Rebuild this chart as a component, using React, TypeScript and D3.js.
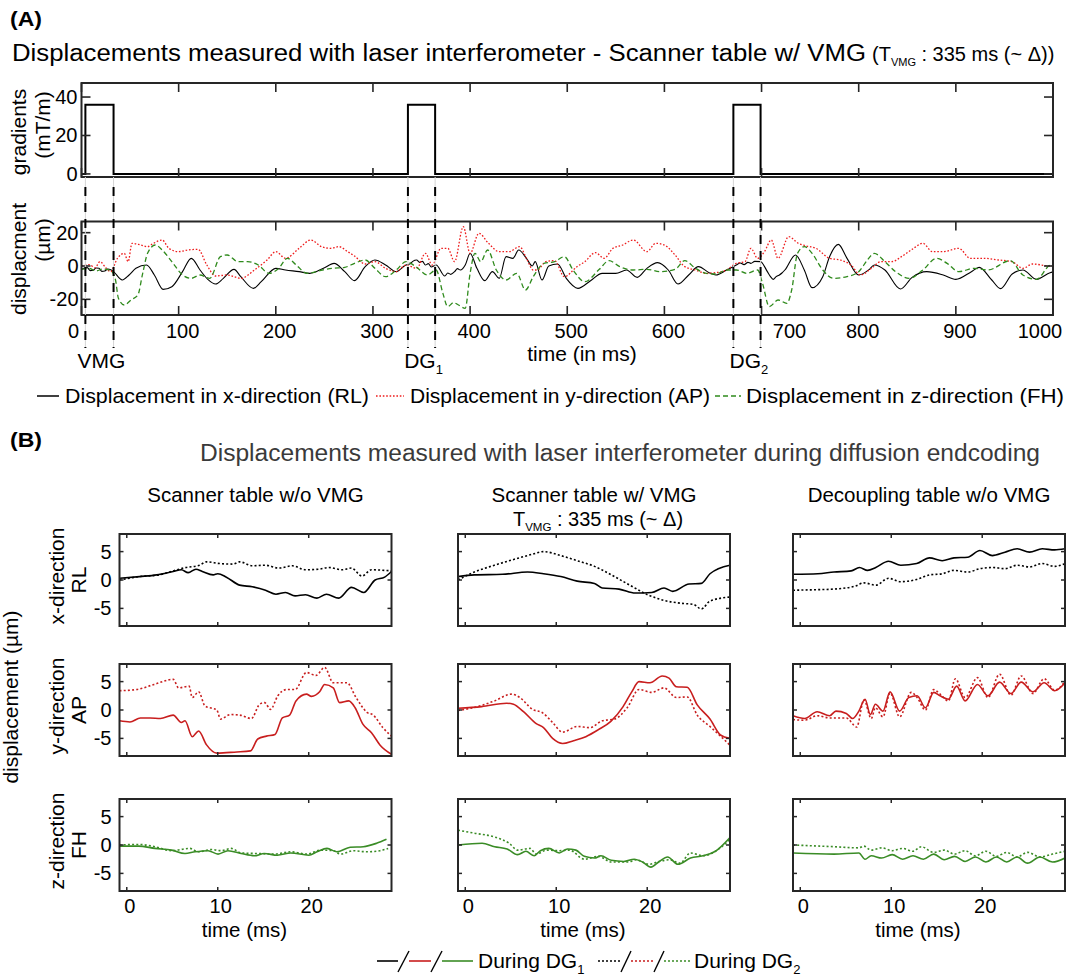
import React from "react";
import * as d3 from "d3";

const FONT = "'Liberation Sans', Arial, Helvetica, sans-serif";

// ---------- (A) gradient waveform (ms, mT/m) ----------
const gradTime = [0, 4, 4, 33, 33, 336, 336, 364, 364, 671, 671, 699, 699, 1000];
const gradAmp = [0, 0, 36, 36, 0, 0, 36, 36, 0, 0, 36, 36, 0, 0];
const pulseStart = [4, 336, 671];
const pulseEnd = [33, 364, 699];
const pulseName = ["VMG", "DG", "DG"];
const pulseSub = ["", "1", "2"];

const timeTicksA = [0, 100, 200, 300, 400, 500, 600, 700, 800, 900, 1000];
const gradTicks = [0, 20, 40];
const dispTicksA = [-20, 0, 20];

// ---------- (A) displacement traces [ms, µm] ----------
const dispRL: [number, number][] = [
  [0, -2], [3, -1.2], [6, -1], [9, -2.8], [12, -2.6], [15, -1.2], [18, -1.4], [21, -3.2], [24, -3], [27, -1.8], [30, -2.2],
  [33, -3.4], [42, -8.4], [49, -5.4], [56, -1.4],
  [67, 0.6], [75, -5.4], [84, -14], [93, -12.4], [104, -3.4], [113, 4.6], [122, -2.4], [130, -8], [138, -10.8],
  [146, -7.4], [157, -2], [164, -6.4], [177, -13.4], [185, -9.4], [200, -1.4], [210, -2.4], [224, -3.4], [235, -4.4],
  [249, -1.4], [260, 1.6], [271, -3.4], [281, -8.8], [292, -0.4], [302, 3.6], [313, 0.6], [324, -3.4], [334, 0.6],
  [338, 1.2], [341, 2.8], [345, 3.6], [348, 2.2], [351, 2.8], [354, 0.6], [357, 1.4], [360, -0.6], [365, 0.6],
  [374, -6], [377, -4.2], [380, -5], [384, -3.4], [387, -1.6], [390, -2.4], [395, 0.6],
  [400, 7.6], [407, -1.4], [415, -8.8], [423, -3.4], [430, -7.4], [437, 5.6], [444, 4.6], [450, 9.6], [458, 4.6],
  [464, 0], [467, 2.6], [474, -8.4], [481, 0], [490, 1.2], [499, -7.4], [511, -13.4], [524, -8.8], [536, -4.4],
  [550, -4.4], [561, -2.4], [572, -6.8], [582, -1.4], [593, 2], [604, -2.4], [614, -10.8], [625, -5.4], [635, -0.4],
  [646, -4], [653, -5.4], [664, -2.4], [674, 0.6], [678, 1.8], [682, 0.8], [686, 2.2], [689, 1.6], [693, 2.8], [699, 2.6],
  [706, -3.4], [709, -6.2], [712, -8], [715, -6.4], [718, -5.5], [721, -4.2], [724, -2.4],
  [735, 6.6], [744, -2.4], [752, -13], [763, -6.4], [770, 5.6], [779, 13], [788, 4.6],
  [800, -5.4], [811, -2], [816, 0.6], [827, -2.4], [843, -13.8], [855, -6.8], [870, -3.4], [887, -5.4], [900, -8],
  [916, -3.4], [924, -0.8], [937, -8.4], [946, -13.6], [958, -4.8], [969, -2.4], [983, -8], [997, -4], [1000, -3.5],
];
const dispAP: [number, number][] = [
  [0, 0], [8, 0.8], [14, -1], [19, 2.6], [25, -1], [30, -3.4], [37, 4.6], [44, 7.6], [48, 2.6], [52, 13.6], [61, 12.6],
  [68, 11.6], [74, 13.6], [83, 15.6], [90, 10.6], [100, 8.6], [109, 9.6], [120, 10], [129, 0.6], [138, -6], [150, -5.4],
  [164, -7.4], [178, -2.4], [191, 3.6], [200, 8.6], [210, 4.6], [224, 10.6], [236, 15.6], [247, 11.6], [256, 10.6],
  [265, 11.6], [274, 8.6], [281, 6], [292, 1.2], [302, 2.6], [313, -1.4], [324, -3.4], [334, 0.6], [345, -1.4],
  [354, 7.6], [361, 0.6], [370, 10.6], [377, 10.6], [384, 2.6], [393, 23.6], [400, 7.6], [409, 19.6], [419, 13.6],
  [430, 8.6], [440, 8.6], [451, 11.6], [458, 4.6], [465, -2.4], [469, -2.4], [478, 2.6], [487, 3.2], [497, -6.4],
  [510, -0.4], [518, 2.6], [529, 8], [538, 4.6], [547, 10.6], [557, 12.6], [568, 15.6], [582, 8.6], [591, 13.6],
  [600, 12.6], [611, 6.6], [621, -0.4], [632, -2.4], [643, -4.4], [653, -4], [664, -2.4], [674, 1.6], [683, 2.6],
  [689, 10.6], [696, 4.6], [703, 8.6], [710, 15.6], [717, 4.6], [728, 17.6], [738, 13.6], [745, 12.2], [756, 10.6],
  [770, 4.6], [781, 3.6], [792, 0.6], [802, -5.4], [813, -1.4], [823, 2.6], [834, 2.6], [844, 5.6], [855, 10],
  [866, 13.6], [876, 8.6], [887, 8.6], [903, 10.6], [915, 4.6], [929, 4.6], [944, 3.6], [958, 2.6], [969, -1.4],
  [979, 1.2], [997, 0], [1000, 0],
];
const dispFH: [number, number][] = [
  [0, -2], [8, -1.5], [15, -3], [22, -1.8], [30, -2.6], [35, -8.4], [38, -19.4], [44, -23.4], [51, -20.4], [58, -17.4],
  [63, -4.4], [68, 7.6], [76, 12.6], [83, 9.6], [93, 2.6], [104, -5.4], [113, -7.4], [122, -5.4], [132, -7.4],
  [143, 5.6], [150, 6.6], [161, 2.6], [171, 2.6], [182, 0.6], [193, -4.4], [203, -1.4], [212, 4.6], [221, 0.6],
  [232, -4.4], [248, -2.4], [258, -1.4], [271, -0.8], [281, 1.6], [292, 3.6], [302, -1.4], [313, -6.4], [324, -2.4],
  [334, 2.6], [345, -0.8], [356, -5.4], [365, -2.4], [372, -16.4], [377, -24.4], [383, -22], [388, -23.4], [395, -25.4],
  [400, -4.4], [405, 7.6], [411, 2.6], [418, 9.6], [427, -2.4], [437, -8.4], [448, -4.4], [457, -14.4], [465, -6.4],
  [476, 1.6], [487, 2.6], [497, 5.6], [506, -2.4], [518, -9.4], [533, -2], [543, 3.2], [554, -0.4], [568, -2.4],
  [582, -2], [596, -3.4], [611, -2], [621, 3.2], [632, -1.4], [643, -4.4], [653, -4.8], [664, -2.4], [674, -2.4],
  [685, -4.4], [696, -2.4], [701, -10.4], [708, -24.4], [717, -20.4], [726, -22.4], [731, -14.4], [737, 7.6],
  [744, 11.6], [752, 7.6], [763, -2.4], [774, -7.4], [788, -6.4], [800, -3.4], [809, 3.6], [816, 7.6], [827, 2.6],
  [838, -3.4], [852, -7.4], [866, -2.4], [880, 4.6], [891, 1.6], [903, -3.4], [919, -1.4], [933, -2.4], [956, 3.2],
  [969, -5.4], [983, -8], [997, 0.6], [1000, 1],
];

const legendA = [
  "Displacement in x-direction (RL)",
  "Displacement in y-direction (AP)",
  "Displacement in z-direction (FH)",
];

// ---------- (B) diffusion-encoding windows [ms, µm] ----------
const bColumns = ["Scanner table w/o VMG", "Scanner table w/ VMG", "Decoupling table w/o VMG"];
const bRows = [["x-direction", "RL"], ["y-direction", "AP"], ["z-direction", "FH"]];
const bTimeTicks = [0, 10, 20];
const bDispTicks = [-5, 0, 5];

// x-direction (RL)
const rlScanDG1: [number, number][] = [[-0.8, 0.3], [1.4, 0.6], [3.3, 0.9], [5.1, 1.5], [6, 1.8], [6.75, 1.3], [7.6, 1.9], [8.3, 1.5], [9.5, 0.9], [10, 1.1], [10.95, 0.5], [12.4, -0.9], [13.8, -1.2], [15.25, -1.8], [16.4, -2.5], [17.45, -2.2], [18.5, -2.8], [19.65, -2.6], [20.9, -3.2], [21.95, -2.5], [23.3, -3.2], [24.7, -1.3], [26.05, -2.2], [27.3, 0], [28.35, 0.5], [29.1, 1.5]];
const rlScanDG2: [number, number][] = [[-0.8, 0], [1.4, 0.6], [3.6, 0.9], [5.1, 1.6], [6.5, 2.2], [8, 2.6], [8.75, 3.2], [10.2, 2.9], [11.7, 2.8], [12.4, 3.2], [13.8, 2.5], [15.25, 2.6], [16.7, 2.1], [18.2, 2.5], [19.65, 1.8], [21.1, 1.9], [22.2, 2.2], [23.65, 1.8], [24.7, 2.1], [25.85, 0.7], [26.9, 1.8], [29.1, 1.6]];
const rlVmgDG1: [number, number][] = [[-0.8, 0.6], [1, 0.9], [4.1, 1], [6.85, 1.4], [8.6, 1.1], [10.5, 0.6], [12.3, -0.2], [14.2, -0.6], [15.05, -1.4], [16.9, -1.6], [18.7, -2.3], [20.5, -2.2], [21.85, -1.4], [22.8, -2], [24.6, -0.7], [25.95, -0.6], [26.9, 1.1], [29.1, 2.6]];
const rlVmgDG2: [number, number][] = [[-0.8, 0], [1, 1.4], [3.2, 2.6], [5.5, 3.7], [7.3, 4.5], [8.6, 5], [10.5, 4.3], [12.3, 3.4], [14.2, 2.4], [16.4, 0.6], [18.3, -1.1], [20.05, -2.6], [21.85, -3.6], [23.75, -4.1], [25.1, -4.3], [25.95, -5.1], [26.9, -3.7], [29.1, -3]];
const rlDecDG1: [number, number][] = [[-0.8, 1], [1.93, 1.1], [3.7, 1.4], [5.6, 1.6], [6.5, 2.2], [7.4, 1.7], [8.3, 2.2], [9.7, 3.3], [11.05, 2.6], [12.8, 2.9], [14.2, 3.9], [15.6, 3.4], [16.9, 3.9], [18.4, 4], [19.75, 5.2], [21.1, 4.3], [22.5, 4.9], [23.85, 5.5], [25.2, 4.9], [26.6, 5.5], [27.95, 5.3], [29.1, 5.5]];
const rlDecDG2: [number, number][] = [[-0.8, -1.8], [1.93, -1.7], [3.7, -1.6], [6, -1.1], [7, -0.5], [8.3, -0.9], [9.7, 0.3], [11.05, -0.3], [12.8, 0.1], [14.2, 0.9], [15.6, 1.1], [16.9, 1.7], [18.4, 1.4], [19.75, 2], [21.1, 2.2], [22.5, 2], [23.85, 2.6], [25.2, 2.3], [26.6, 2.9], [27.95, 2.4], [29.1, 2.9]];

// y-direction (AP)
const apScanDG1: [number, number][] = [[-0.8, -1.9], [0.35, -2.1], [1.5, -1.4], [2.56, -1.4], [3.7, -1.5], [5.1, -0.9], [6, -2.2], [6.4, -1.9], [7.2, -4.7], [7.9, -3.7], [8.75, -6.1], [9.9, -7.6], [10.95, -7.5], [12.1, -7.4], [13.6, -7.2], [14.4, -5.1], [15.35, -4.6], [16.3, -4.3], [17.1, -1.4], [17.9, -0.9], [18.6, 1.6], [19.75, 2.8], [20.3, 2.4], [21.2, 3.2], [21.75, 4.5], [22.7, 3.9], [23.4, 1.3], [24.4, 1.6], [25.1, 0.4], [25.95, -2.5], [26.9, -4], [27.85, -6.2], [29.1, -7.8]];
const apScanDG2: [number, number][] = [[-0.8, 3.4], [1.09, 3.6], [3, 4.5], [5.1, 5.4], [5.7, 3.9], [6.85, 4.2], [7.2, 2.2], [7.9, 3.2], [8.6, 0.7], [9.9, 0], [10.3, -1.6], [11.4, -0.8], [12.4, -0.9], [13.7, -1.5], [14.6, 1], [15.15, 1.3], [15.8, 0.1], [16.6, 2.5], [17.55, 3.6], [18.5, 3.6], [19.75, 6.6], [20.8, 6.1], [21.75, 7.5], [22.7, 4.8], [24.2, 4.8], [25.2, 2.2], [26.4, -0.4], [27.1, -0.9], [28.15, -3.1], [29.1, -4.6]];
const apVmgDG1: [number, number][] = [[-0.8, 0.3], [1.8, 0.6], [4.55, 1.2], [5.3, 1], [6.4, -0.3], [7.8, -2.4], [8.6, -3.1], [9.6, -5], [10.7, -5.9], [11.9, -5.4], [13.25, -4.7], [14.6, -3.5], [16, -2], [17.35, 0.6], [18.3, 3.2], [19.1, 5], [20.3, 4.8], [21.65, 6], [22.4, 5.6], [23.2, 4.1], [24.4, 4], [25.5, 0.9], [26.9, -1.6], [28.05, -4.4], [29.1, -5]];
const apVmgDG2: [number, number][] = [[-0.8, -0.1], [1.8, 0.8], [3.2, 1.6], [5.1, 2.8], [6, 2.2], [7.4, 0.1], [8.5, -0.5], [9.6, -2.2], [10.7, -3.9], [12.3, -2.9], [13.7, -3.1], [15.05, -1.9], [16.4, -1.6], [17.8, 0.4], [19.1, 3.6], [20.5, 3.1], [21.85, 3.9], [23.2, 2.2], [24.4, 2.3], [25.5, -0.9], [26.9, -2.9], [28.05, -4.6], [29.1, -6.2]];
const apDecDG1: [number, number][] = [[-0.8, -1], [0.48, -1.5], [1.85, -0.3], [3.23, -1], [3.92, -0.2], [5.06, -0.6], [5.75, -1.5], [6.44, -0.2], [7.12, 1.9], [7.7, -0.8], [8.26, 1], [9.09, -0.2], [9.87, 3.2], [10.92, -0.2], [11.93, 2.2], [12.84, 2.5], [13.76, 0.4], [14.67, 3.1], [15.37, 2.5], [16.28, 1.9], [17.19, 4.2], [18.12, 1.6], [19.48, 4.5], [20.63, 2.5], [21.91, 4.9], [23.15, 2.9], [24.29, 4.9], [25.57, 3.2], [26.81, 4.8], [27.96, 3.4], [29.1, 4.8]];
const apDecDG2: [number, number][] = [[-0.8, -1.7], [0.48, -1.8], [1.85, -1], [3.23, -1.4], [5.06, -1.4], [6.2, -3], [7, 1.8], [7.8, -1.5], [8.26, 0.4], [9.09, -1.2], [9.87, 3], [10.92, -1.2], [12.2, 3.1], [12.84, 2.2], [13.76, 0], [14.67, 3.6], [15.37, 2.8], [16.28, 1.6], [17.05, 5.5], [18.12, 2.2], [19.48, 5.7], [20.63, 2.2], [21.91, 6.3], [23.15, 2.6], [24.29, 6], [25.57, 2.9], [26.81, 5.5], [27.96, 3.5], [29.1, 5]];

// z-direction (FH)
const fhScanDG1: [number, number][] = [[-0.8, -0.2], [1.3, -0.2], [3.1, -0.6], [4.94, -0.9], [6.4, -1.5], [7.5, -1.2], [8.94, -1], [10.03, -1.6], [11.12, -1], [12.57, -1.5], [14.02, -1.9], [15.11, -1.5], [16.56, -1.8], [18.02, -1.4], [20.01, -1.8], [20.92, -1.2], [22.01, -0.6], [23.1, -1.2], [24.56, -0.4], [26, -0.3], [27.46, 0.3], [28.55, 1]];
const fhScanDG2: [number, number][] = [[-0.8, 0], [1.3, 0.1], [3.1, -0.3], [4.94, -1], [6.94, -0.6], [7.86, -1.2], [9.3, -0.8], [10.4, -1], [11.5, -0.6], [12.57, -1.4], [14.4, -1.5], [16.2, -1.6], [18.02, -1.2], [19.84, -1.6], [21.29, -0.9], [22.74, -1], [23.47, -1.6], [24.92, -1], [26.37, -1.2], [27.83, -1], [28.73, -0.6]];
const fhVmgDG1: [number, number][] = [[-0.8, 0], [1.85, 0.3], [3.23, -0.3], [4.6, -0.7], [5.75, -1.7], [6.66, -1.1], [7.58, -1.9], [8.26, -1], [9.18, -0.6], [10.33, -1.4], [11.24, -0.7], [12.16, -0.9], [13.08, -2], [14.22, -2.3], [14.91, -1.9], [16.05, -2.7], [17.42, -2.9], [18.57, -2.5], [19.49, -3], [20.4, -3.9], [21.32, -2.9], [22.24, -2.1], [23.38, -3.4], [24.76, -2.3], [26.13, -1.9], [27.5, -1.1], [29.1, 1.3]];
const fhVmgDG2: [number, number][] = [[-0.8, 2.6], [0.94, 2.1], [3.23, 1.4], [4.83, 0.3], [5.75, -0.9], [7.12, -0.6], [7.81, -1.6], [8.96, -0.9], [10.33, -1], [11.47, -0.9], [13.08, -2.5], [14.68, -2], [16.05, -3], [17.88, -3], [18.8, -2.6], [20.17, -3.4], [21.32, -2.9], [22.46, -2.6], [23.61, -3.2], [24.76, -1.4], [26.13, -1.9], [27.5, -1.1], [29.1, 1]];
const fhDecDG1: [number, number][] = [[-0.8, -1.4], [3.69, -1.6], [6.44, -1.4], [7.12, -2.5], [7.8, -1.9], [8.95, -2.3], [10.1, -1.7], [11.24, -2.5], [12.39, -1.9], [13.53, -2.5], [14.67, -1.6], [15.82, -2.6], [16.96, -2], [18.12, -2.9], [19.26, -2.1], [20.4, -3], [21.55, -2.1], [22.69, -3], [23.83, -2.1], [24.98, -3.2], [26.35, -2.1], [27.72, -3], [29.1, -2.3]];
const fhDecDG2: [number, number][] = [[-0.8, 0], [3.69, -0.3], [6.44, -0.5], [6.98, -0.2], [7.8, -0.9], [8.95, -0.5], [10.1, -1], [11.24, -0.6], [12.39, -1.1], [13.3, -0.3], [14.67, -1.3], [15.82, -0.9], [16.96, -1.6], [18.12, -1], [19.26, -1.9], [20.4, -1.1], [21.55, -2], [22.69, -1.3], [23.83, -2.1], [24.98, -1.3], [26.35, -2.1], [27.72, -1.6], [29.1, -1.1]];

const bDG1 = [
  [rlScanDG1, rlVmgDG1, rlDecDG1],
  [apScanDG1, apVmgDG1, apDecDG1],
  [fhScanDG1, fhVmgDG1, fhDecDG1],
];
const bDG2 = [
  [rlScanDG2, rlVmgDG2, rlDecDG2],
  [apScanDG2, apVmgDG2, apDecDG2],
  [fhScanDG2, fhVmgDG2, fhDecDG2],
];
const rowColor = ["#000000", "#c81e1e", "#3a8c26"];

// ---------- layout ----------
const AX0 = 81.5, AX1 = 1053;
const GY0 = 83, GY1 = 177;
const DY0 = 221.5, DY1 = 315;
const bLeft = [119.5, 458, 793];
const bTop = [534, 664, 799];
const bW = 272, bH = 92;
const AXIS = "#262626";

const smooth = (x: d3.ScaleLinear<number, number>, y: d3.ScaleLinear<number, number>) =>
  d3.line<[number, number]>().x((d) => x(d[0])).y((d) => y(d[1])).curve(d3.curveMonotoneX);

const Sub = ({ children, size }: { children: React.ReactNode; size: number }) => (
  <tspan fontSize={size} dy={size * 0.45}>{children}</tspan>
);

const BCell = ({ row, col }: { row: number; col: number }) => {
  const x0 = bLeft[col], y0 = bTop[row];
  const x = d3.scaleLinear().domain([-0.8, 29.1]).range([x0, x0 + bW]);
  const y = d3.scaleLinear().domain([-8.1, 8.1]).range([y0 + bH, y0]);
  const line = smooth(x, y);
  const id = `clip-${row}-${col}`;
  return (
    <g>
      <clipPath id={id}><rect x={x0} y={y0} width={bW} height={bH} /></clipPath>
      <g clipPath={`url(#${id})`} fill="none" stroke={rowColor[row]} strokeWidth={1.6}>
        <path d={line(bDG2[row][col]) || ""} strokeDasharray="2 2.2" />
        <path d={line(bDG1[row][col]) || ""} />
      </g>
      {bTimeTicks.map((t) => (
        <g key={"t" + t} stroke={AXIS} strokeWidth={1.5}>
          <line x1={x(t)} x2={x(t)} y1={y0} y2={y0 + 4} />
          <line x1={x(t)} x2={x(t)} y1={y0 + bH} y2={y0 + bH - 4} />
        </g>
      ))}
      {bDispTicks.map((v) => (
        <g key={"v" + v} stroke={AXIS} strokeWidth={1.5}>
          <line x1={x0} x2={x0 + 4} y1={y(v)} y2={y(v)} />
          <line x1={x0 + bW} x2={x0 + bW - 4} y1={y(v)} y2={y(v)} />
        </g>
      ))}
      <rect x={x0} y={y0} width={bW} height={bH} fill="none" stroke={AXIS} strokeWidth={2} />
      {col === 0 && bDispTicks.map((v) => (
        <text key={"l" + v} x={x0 - 8} y={y(v) + 7} textAnchor="end" fontSize={20}>{v}</text>
      ))}
      {row === 2 && bTimeTicks.map((t) => (
        <text key={"lt" + t} x={x(t) + 3} y={913} textAnchor="middle" fontSize={20}>{t}</text>
      ))}
      {row === 2 && (
        <text x={x0 + bW / 2 - 11} y={937} textAnchor="middle" fontSize={20.5}>time (ms)</text>
      )}
    </g>
  );
};

export default function App() {
  const xA = d3.scaleLinear().domain([0, 1000]).range([AX0, AX1]);
  const yG = d3.scaleLinear().domain([-1.6, 47.3]).range([GY1, GY0]);
  const yD = d3.scaleLinear().domain([-29.4, 26.7]).range([DY1, DY0]);

  const gradPath = d3.line<number>().x((t) => xA(t)).y((_, i) => yG(gradAmp[i]))(gradTime) || "";
  const dispLine = smooth(xA, yD);
  const labelShift: Record<number, number> = { 0: -8, 700: 28, 1000: -13 };

  return (
    <svg width={1070} height={976} viewBox="0 0 1070 976"
      style={{ position: "absolute", left: 0, top: 0, background: "#fff" }}
      fontFamily={FONT} fill="#000">
      {/* ---------------- (A) ---------------- */}
      <text x={10} y={26} fontSize={21} fontWeight="bold" textLength={32} lengthAdjust="spacingAndGlyphs">(A)</text>
      <text x={12} y={61} fontSize={23} textLength={854} lengthAdjust="spacingAndGlyphs">
        Displacements measured with laser interferometer - Scanner table w/ VMG
      </text>
      <text x={872} y={61} fontSize={20}>
        (T<Sub size={11}>VMG</Sub><tspan dy={-4.95}> : 335 ms (~ Δ))</tspan>
      </text>

      {/* gradient box */}
      <path d={gradPath} fill="none" stroke="#000" strokeWidth={2} />
      {timeTicksA.map((t) => (
        <g key={"g" + t} stroke={AXIS} strokeWidth={1.6}>
          <line x1={xA(t)} x2={xA(t)} y1={GY0} y2={GY0 + 9} />
          <line x1={xA(t)} x2={xA(t)} y1={GY1} y2={GY1 - 9} />
          <line x1={xA(t)} x2={xA(t)} y1={DY0} y2={DY0 + 9} />
          <line x1={xA(t)} x2={xA(t)} y1={DY1} y2={DY1 - 9} />
        </g>
      ))}
      {gradTicks.map((v) => (
        <g key={"gv" + v}>
          <line x1={AX0} x2={AX0 + 9} y1={yG(v)} y2={yG(v)} stroke={AXIS} strokeWidth={1.6} />
          <line x1={AX1} x2={AX1 - 9} y1={yG(v)} y2={yG(v)} stroke={AXIS} strokeWidth={1.6} />
          <text x={AX0 - 4} y={yG(v) + 7} textAnchor="end" fontSize={20}>{v}</text>
        </g>
      ))}
      <rect x={AX0} y={GY0} width={AX1 - AX0} height={GY1 - GY0} fill="none" stroke={AXIS} strokeWidth={2} />
      <text transform="translate(26,132) rotate(-90)" textAnchor="middle" fontSize={21}>gradients</text>
      <text transform="translate(50,125) rotate(-90)" textAnchor="middle" fontSize={21}>(mT/m)</text>

      {/* displacement box */}
      <g fill="none" strokeWidth={1.3}>
        <path d={dispLine(dispRL) || ""} stroke="#000" strokeWidth={1.1} />
        <path d={dispLine(dispAP) || ""} stroke="#ee1c1c" strokeDasharray="1.6 1.8" />
        <path d={dispLine(dispFH) || ""} stroke="#2f8a1c" strokeDasharray="5 3" />
      </g>
      {dispTicksA.map((v) => (
        <g key={"dv" + v}>
          <line x1={AX0} x2={AX0 + 9} y1={yD(v)} y2={yD(v)} stroke={AXIS} strokeWidth={1.6} />
          <line x1={AX1} x2={AX1 - 9} y1={yD(v)} y2={yD(v)} stroke={AXIS} strokeWidth={1.6} />
          <text x={AX0 - 3} y={yD(v) + 7} textAnchor="end" fontSize={20}>{v}</text>
        </g>
      ))}
      <rect x={AX0} y={DY0} width={AX1 - AX0} height={DY1 - DY0} fill="none" stroke={AXIS} strokeWidth={2} />
      {timeTicksA.map((t) => (
        <text key={"tl" + t} x={xA(t) + (labelShift[t] ?? 4)} y={338} textAnchor="middle" fontSize={20}>{t}</text>
      ))}
      <text x={582} y={361} textAnchor="middle" fontSize={21}>time (in ms)</text>
      <text transform="translate(26,259) rotate(-90)" textAnchor="middle" fontSize={21}>displacment</text>
      <text transform="translate(50,240) rotate(-90)" textAnchor="middle" fontSize={21}>(µm)</text>

      {/* gradient edges */}
      {[...pulseStart, ...pulseEnd].map((t) => (
        <g key={"e" + t}>
          <line x1={xA(t)} x2={xA(t)} y1={GY1} y2={348} stroke="#d4d4d4" strokeWidth={1} />
          <line x1={xA(t)} x2={xA(t)} y1={187} y2={348} stroke="#000" strokeWidth={2} strokeDasharray="9 7" />
        </g>
      ))}
      {pulseName.map((n, i) => (
        <text key={"p" + i} x={xA((pulseStart[i] + pulseEnd[i]) / 2) + 2} y={368} textAnchor="middle" fontSize={21}>
          {n}{pulseSub[i] && <Sub size={13}>{pulseSub[i]}</Sub>}
        </text>
      ))}

      {/* legend (A) */}
      <line x1={37} x2={59} y1={396} y2={396} stroke="#000" strokeWidth={1.5} />
      <text x={65} y={403} fontSize={21} textLength={304} lengthAdjust="spacingAndGlyphs">{legendA[0]}</text>
      <line x1={376} x2={404} y1={396} y2={396} stroke="#ee1c1c" strokeWidth={1.5} strokeDasharray="1.6 1.8" />
      <text x={410} y={403} fontSize={21} textLength={300} lengthAdjust="spacingAndGlyphs">{legendA[1]}</text>
      <line x1={715} x2={741} y1={396} y2={396} stroke="#2f8a1c" strokeWidth={1.5} strokeDasharray="5 3" />
      <text x={746} y={403} fontSize={21} textLength={318} lengthAdjust="spacingAndGlyphs">{legendA[2]}</text>

      {/* ---------------- (B) ---------------- */}
      <text x={10} y={447} fontSize={21} fontWeight="bold" textLength={32} lengthAdjust="spacingAndGlyphs">(B)</text>
      <text x={200} y={461} fontSize={23} fill="#3a3a3a" textLength={840} lengthAdjust="spacingAndGlyphs">
        Displacements measured with laser interferometer during diffusion endcoding
      </text>
      {bColumns.map((c, i) => (
        <text key={"c" + i} x={bLeft[i] + bW / 2} y={502} textAnchor="middle" fontSize={20.5}>{c}</text>
      ))}
      <text x={bLeft[1] + bW / 2 + 4} y={526} textAnchor="middle" fontSize={20}>
        T<Sub size={11.5}>VMG</Sub><tspan dy={-5.2}> : 335 ms (~ Δ)</tspan>
      </text>
      {bRows.map((r, i) => (
        <g key={"r" + i}>
          <text transform={`translate(64,${bTop[i] + bH / 2 - 4}) rotate(-90)`} textAnchor="middle" fontSize={21}>{r[0]}</text>
          <text transform={`translate(86,${bTop[i] + bH / 2}) rotate(-90)`} textAnchor="middle" fontSize={21}>{r[1]}</text>
        </g>
      ))}
      <text transform="translate(18,697) rotate(-90)" textAnchor="middle" fontSize={21}>displacement (µm)</text>
      {bRows.map((_, r) => bColumns.map((__, c) => <BCell key={`${r}-${c}`} row={r} col={c} />))}

      {/* legend (B) */}
      <g strokeWidth={1.6} fill="none">
        <line x1={377} x2={398} y1={961} y2={961} stroke={rowColor[0]} />
        <line x1={398} x2={409} y1={972} y2={951} stroke="#000" strokeWidth={1.4} />
        <line x1={409} x2={431} y1={961} y2={961} stroke={rowColor[1]} />
        <line x1={431} x2={442} y1={972} y2={951} stroke="#000" strokeWidth={1.4} />
        <line x1={442} x2={473} y1={961} y2={961} stroke={rowColor[2]} />
        <line x1={598} x2={621} y1={961} y2={961} stroke={rowColor[0]} strokeDasharray="2 2" />
        <line x1={621} x2={631} y1={972} y2={951} stroke="#000" strokeWidth={1.4} />
        <line x1={631} x2={654} y1={961} y2={961} stroke={rowColor[1]} strokeDasharray="2 2" />
        <line x1={654} x2={664} y1={972} y2={951} stroke="#000" strokeWidth={1.4} />
        <line x1={664} x2={692} y1={961} y2={961} stroke={rowColor[2]} strokeDasharray="2 2" />
      </g>
      <text x={478} y={968} fontSize={21}>During DG<Sub size={13}>1</Sub></text>
      <text x={694} y={968} fontSize={21}>During DG<Sub size={13}>2</Sub></text>
    </svg>
  );
}
